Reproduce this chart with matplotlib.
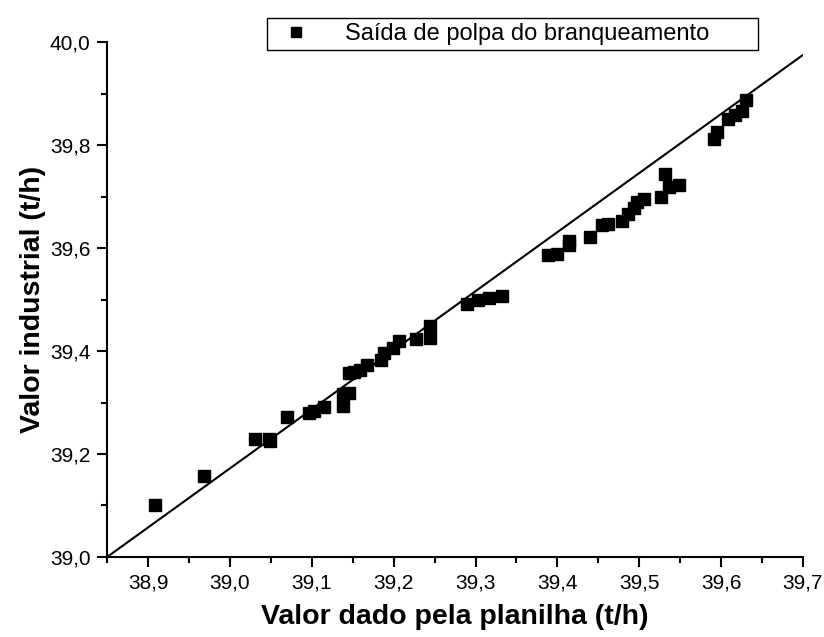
import matplotlib.pyplot as plt
from matplotlib.ticker import MultipleLocator, FuncFormatter

plt.rcParams['font.family'] = ['Liberation Sans', 'DejaVu Sans']

# planilha (x) vs industrial (y)
planilha = [38.908, 38.968, 39.031, 39.048, 39.049, 39.070, 39.096, 39.103,
            39.115, 39.138, 39.138, 39.145, 39.145, 39.152, 39.159, 39.167,
            39.184, 39.188, 39.199, 39.206, 39.227, 39.245, 39.245, 39.289,
            39.303, 39.316, 39.332, 39.388, 39.400, 39.414, 39.414, 39.440,
            39.455, 39.462, 39.479, 39.486, 39.493, 39.497, 39.506, 39.527,
            39.531, 39.536, 39.549, 39.591, 39.595, 39.609, 39.617, 39.625,
            39.630]
industrial = [39.100, 39.157, 39.230, 39.230, 39.225, 39.272, 39.279, 39.284,
              39.292, 39.293, 39.317, 39.319, 39.357, 39.359, 39.363, 39.372,
              39.383, 39.396, 39.405, 39.420, 39.423, 39.425, 39.448, 39.491,
              39.500, 39.503, 39.507, 39.586, 39.588, 39.605, 39.614, 39.621,
              39.644, 39.646, 39.652, 39.666, 39.678, 39.690, 39.696, 39.700,
              39.743, 39.719, 39.722, 39.811, 39.825, 39.850, 39.858, 39.866,
              39.887]

# reference line endpoints
line_x = [38.85, 39.70]
line_y = [39.00, 39.975]

fig = plt.figure(figsize=(8.24, 6.37), dpi=100)
ax = fig.add_axes([0.130, 0.1256, 0.8445, 0.8084])

ax.plot(line_x, line_y, color='black', lw=1.5, zorder=2)
ax.plot(planilha, industrial, 's', color='black', ms=8.5, zorder=3,
        label='Saída de polpa do branqueamento')

ax.set_xlim(38.85, 39.70)
ax.set_ylim(39.0, 40.0)
ax.xaxis.set_major_locator(MultipleLocator(0.1))
ax.xaxis.set_minor_locator(MultipleLocator(0.05))
ax.yaxis.set_major_locator(MultipleLocator(0.2))
ax.yaxis.set_minor_locator(MultipleLocator(0.1))
fmt = FuncFormatter(lambda v, p: f'{v:.1f}'.replace('.', ','))
ax.xaxis.set_major_formatter(fmt)
ax.yaxis.set_major_formatter(fmt)

for s in ['top', 'right']:
    ax.spines[s].set_visible(False)
for s in ['left', 'bottom']:
    ax.spines[s].set_linewidth(1.5)
ax.tick_params(which='major', direction='out', length=7, width=1.5,
               labelsize=15, pad=5)
ax.tick_params(which='minor', direction='out', length=4.3, width=1.5)

ax.set_xlabel('Valor dado pela planilha (t/h)', fontsize=20.5, fontweight='bold',
              labelpad=8)
ax.set_ylabel('Valor industrial (t/h)', fontsize=20.5, fontweight='bold',
              labelpad=3)

leg = ax.legend(loc='lower left', bbox_to_anchor=(0.23, 0.985, 0.705, 0.06),
                mode='expand', fontsize=17, fancybox=False, edgecolor='black',
                framealpha=1, handlelength=2.0, handletextpad=1.1,
                borderpad=0.2, borderaxespad=0, markerscale=0.9)
leg.get_frame().set_linewidth(1.0)

fig.savefig('out.png', dpi=100)
